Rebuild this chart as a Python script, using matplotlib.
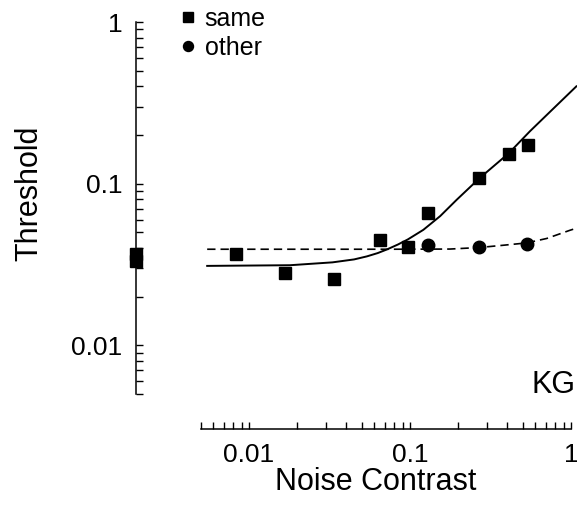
import matplotlib
matplotlib.use("Agg")
import matplotlib.pyplot as plt
import matplotlib.ticker as ticker
import matplotlib.transforms as mtransforms

plt.rcParams['font.family'] = ['Liberation Sans', 'DejaVu Sans']

# thresholds
noise_same = [0.0083, 0.0168, 0.0339, 0.0652, 0.0972, 0.130, 0.269, 0.414, 0.543]
thr_same = [0.0367, 0.0282, 0.0259, 0.0451, 0.0403, 0.0663, 0.1086, 0.1523, 0.173]
noise_other = [0.130, 0.269, 0.535]
thr_other = [0.0420, 0.0406, 0.0426]
thr_zero_noise = [0.0366, 0.0331]   # drawn on the threshold axis

# fitted curves, points
fit_same_x = [0.0055, 0.018, 0.033, 0.045, 0.054, 0.063, 0.072, 0.084, 0.097,
              0.121, 0.154, 0.195, 0.27, 0.41, 0.556, 0.74, 1.08]
fit_same_y = [0.0310, 0.0313, 0.0326, 0.0340, 0.0355, 0.0372, 0.0392, 0.0420,
              0.0452, 0.0518, 0.0630, 0.0795, 0.108, 0.154, 0.211, 0.278, 0.40]
fit_other_x = [0.0055, 0.075, 0.177, 0.272, 0.38, 0.531, 0.706, 0.986, 1.08]
fit_other_y = [0.0393, 0.0393, 0.0394, 0.0403, 0.0416, 0.0430, 0.0458, 0.0515, 0.053]

x_ticks = [0.01, 0.1, 1]
y_ticks = [0.01, 0.1, 1]

FIG_W, FIG_H, DPI = 5.77, 5.07, 100
L, B, W, H = 0.3475, 0.2229, 0.6421, 0.7337
LEFT_OFF = 46.4    # points the threshold axis sits left of the data
BOTTOM_OFF = 25.2

fig = plt.figure(figsize=(FIG_W, FIG_H), dpi=DPI)
ax = fig.add_axes([L, B, W, H])
ax.set_xscale('log')
ax.set_yscale('log')
ax.set_xlim(0.005, 1)
ax.set_ylim(0.005, 1)

ax.plot(fit_same_x, fit_same_y, '-', color='black', lw=1.4, clip_on=False)
ax.plot(fit_other_x, fit_other_y, color='black', lw=1.2, dashes=(5, 3), clip_on=False)
ax.plot(noise_same, thr_same, 's', color='black', ms=9, label='same')
ax.plot(noise_other, thr_other, 'o', color='black', ms=9, label='other')

# zero-noise points sit on the left spine
spine_x = -(LEFT_OFF / 72 * DPI) / (W * FIG_W * DPI)
trans = mtransforms.blended_transform_factory(ax.transAxes, ax.transData)
ax.plot([spine_x] * len(thr_zero_noise), thr_zero_noise, 's', color='black',
        ms=9, transform=trans, clip_on=False)

for s in ['top', 'right']:
    ax.spines[s].set_visible(False)
ax.spines['left'].set_position(('outward', LEFT_OFF))
ax.spines['bottom'].set_position(('outward', BOTTOM_OFF))
for s in ['left', 'bottom']:
    ax.spines[s].set_linewidth(1.1)

fmt = ticker.FuncFormatter(lambda v, p: f'{v:g}')
ax.xaxis.set_major_locator(ticker.FixedLocator(x_ticks))
ax.yaxis.set_major_locator(ticker.FixedLocator(y_ticks))
ax.xaxis.set_major_formatter(fmt)
ax.yaxis.set_major_formatter(fmt)
ax.xaxis.set_minor_formatter(ticker.NullFormatter())
ax.yaxis.set_minor_formatter(ticker.NullFormatter())
ax.tick_params(which='both', direction='in', length=5, width=1)
ax.tick_params(which='major', labelsize=19, pad=10)

ax.set_xlabel('Noise Contrast', fontsize=22)
ax.set_ylabel('Threshold', fontsize=22)
ax.xaxis.set_label_coords(0.472, -0.195)
ax.yaxis.set_label_coords(-0.422, 0.54)

ax.text(1.012, 0.003, 'KG', transform=ax.transAxes, ha='right', va='baseline',
        fontsize=22)

ax.legend(loc='upper left', bbox_to_anchor=(-0.06, 1.04), handlelength=0.8,
          handletextpad=0.25, labelspacing=0.2, borderpad=0, borderaxespad=0,
          frameon=False, fontsize=18, markerscale=0.8)

fig.savefig('out.png', dpi=DPI)
